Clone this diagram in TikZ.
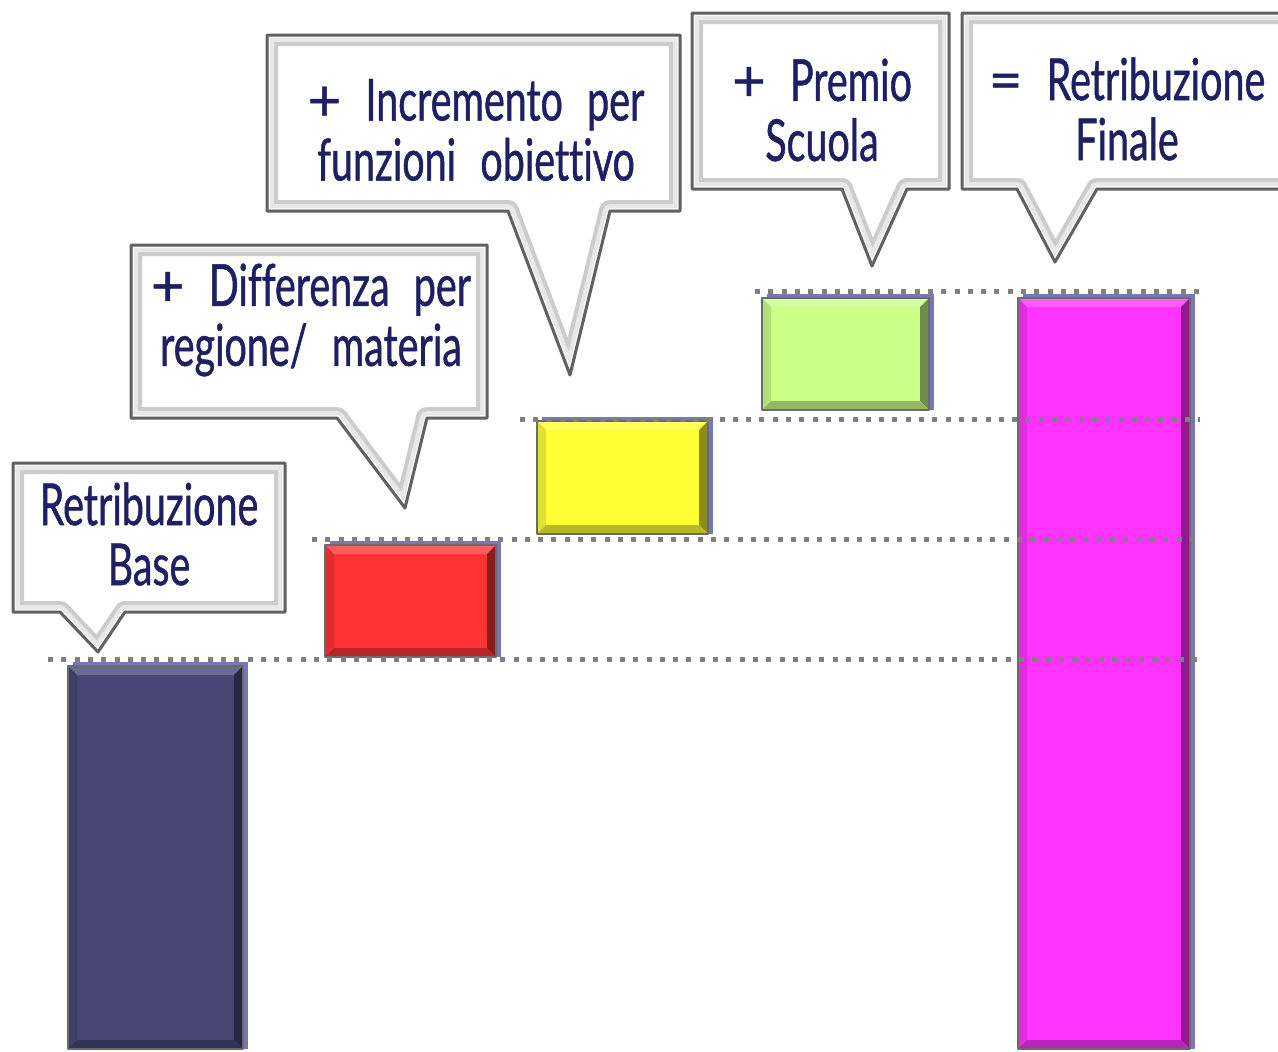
\documentclass[tikz,border=0pt]{standalone}
\usepackage{fontspec}
\setmainfont[FakeStretch=0.68,WordSpace=2.4,FakeBold=0.8,Ligatures=NoCommon]{Lato}
\newfontfamily\signfont[FakeBold=0.8]{Lato}
\usetikzlibrary{positioning}

\definecolor{textblue}{RGB}{31,31,99}
\definecolor{barnavy}{RGB}{70,70,117}
\definecolor{barred}{RGB}{255,51,51}
\definecolor{baryellow}{RGB}{255,255,51}
\definecolor{bargreen}{RGB}{204,255,136}
\definecolor{barmagenta}{RGB}{255,51,255}
\definecolor{barshadow}{RGB}{118,118,184}

\newcommand{\sign}[1]{{\signfont #1}}

\tikzset{
  baredge/.style={draw=black!58, line width=2.5pt},
  dotline/.style={draw=black!50, line width=5pt, line cap=butt, dash pattern=on 5pt off 8.3pt},
  bubbletext/.style={text=textblue, align=center, inner sep=0pt,
    font=\fontsize{58}{60}\selectfont},
  bubbleedge/.style={draw=black!62, line width=3pt}
}

% x1 y1 x2 y2 colour
\newcommand{\bevelbar}[5]{%
  \fill[barshadow] (#1+5,#2-4) rectangle (#3+5,#4);
  \fill[#5] (#1,#2) rectangle (#3,#4);
  \fill[#5!80!white] (#1,#2) -- (#3,#2) -- (#3-9,#2+9) -- (#1+9,#2+9) -- cycle;
  \fill[#5!88!black] (#1,#2) -- (#1+9,#2+9) -- (#1+9,#4-9) -- (#1,#4) -- cycle;
  \fill[#5!55!black] (#3,#2) -- (#3,#4) -- (#3-9,#4-9) -- (#3-9,#2+9) -- cycle;
  \fill[#5!72!black] (#1,#4) -- (#3,#4) -- (#3-9,#4-9) -- (#1+9,#4-9) -- cycle;
  \draw[baredge] (#1,#2) rectangle (#3,#4);
}

% left top right bottom, pointer base left/right, tip x y
\newcommand{\bubblepath}[8]{(#1,#2) -- (#3,#2) -- (#3,#4) -- (#6,#4) -- (#7,#8) -- (#5,#4) -- (#1,#4) -- cycle}
\newcommand{\bubble}[8]{%
  \fill[white] \bubblepath{#1}{#2}{#3}{#4}{#5}{#6}{#7}{#8};
  \begin{scope}
    \clip \bubblepath{#1}{#2}{#3}{#4}{#5}{#6}{#7}{#8};
    \draw[line width=22pt, black!20] \bubblepath{#1}{#2}{#3}{#4}{#5}{#6}{#7}{#8};
    \draw[line width=14pt, black!9] \bubblepath{#1}{#2}{#3}{#4}{#5}{#6}{#7}{#8};
    \draw[line width=6pt, black!4] \bubblepath{#1}{#2}{#3}{#4}{#5}{#6}{#7}{#8};
  \end{scope}
  \draw[bubbleedge] \bubblepath{#1}{#2}{#3}{#4}{#5}{#6}{#7}{#8};
}

\begin{document}
\begin{tikzpicture}[x=1pt,y=-1pt,line cap=round,line join=round]
\clip (0,0) rectangle (1278,1052);
\fill[white] (0,0) rectangle (1278,1052);

% bars
\bevelbar{68}{666}{243}{1049}{barnavy}
\bevelbar{325}{545}{496}{657}{barred}
\bevelbar{537}{421}{708}{534}{baryellow}
\bevelbar{762}{298}{929}{410}{bargreen}
\bevelbar{1018}{298}{1190}{1049}{barmagenta}

% callouts
\bubble{13}{463}{285}{612}{60}{125}{98}{652}
\bubble{131}{245}{487}{418}{337}{427}{405}{508}
\bubble{267}{35}{680}{211}{508}{610}{570}{375}
\bubble{692}{13}{949}{189}{842}{907}{872}{266}
\bubble{962}{13}{1300}{189}{1017}{1097}{1055}{262}

\node[bubbletext] (base) at (149,534) {Retribuzione\\Base};
\node[bubbletext] (diff) at (311,320) {\sign{+} Differenza per\\regione/ materia};
\node[bubbletext] (incr) at (476,130) {\sign{+} Incremento per\\funzioni obiettivo};
\node[bubbletext] (premio) at (822,110) {\sign{+} Premio\\Scuola};
\node[bubbletext] (finale) at (1127,109) {\sign{=} Retribuzione\\Finale};

% level lines
\draw[dotline] (48,659) -- (1202,659);
\draw[dotline] (312,539) -- (1200,539);
\draw[dotline] (520,419) -- (1200,419);
\draw[dotline] (755,291) -- (1202,291);
\end{tikzpicture}
\end{document}
